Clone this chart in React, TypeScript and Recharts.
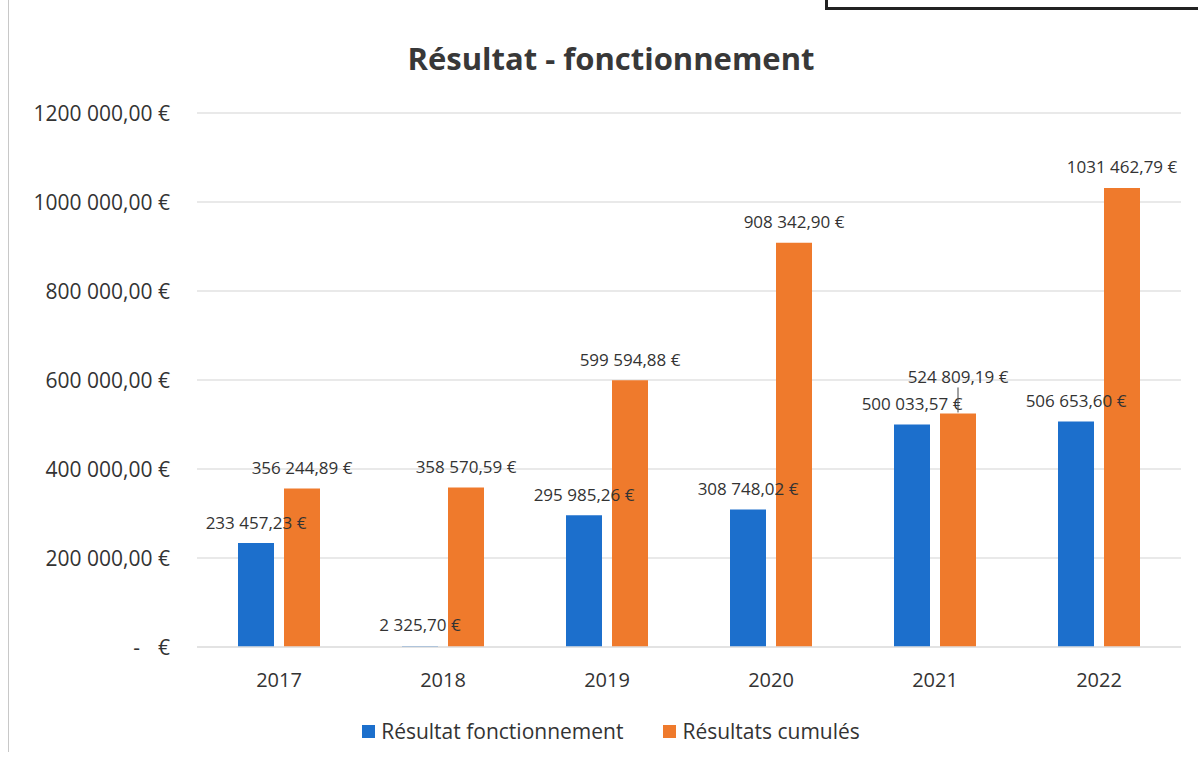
import React from 'react';
import { BarChart, Bar, XAxis, YAxis, CartesianGrid, LabelList, Legend } from 'recharts';

const categories = ['2017', '2018', '2019', '2020', '2021', '2022'];
const resultatFonctionnement = [233457.23, 2325.7, 295985.26, 308748.02, 500033.57, 506653.6];
const resultatsCumules = [356244.89, 358570.59, 599594.88, 908342.9, 524809.19, 1031462.79];
const yTicks = [0, 200000, 400000, 600000, 800000, 1000000, 1200000];
const titleText = 'Résultat - fonctionnement';
const seriesNames = ['Résultat fonctionnement', 'Résultats cumulés'];

const BLUE = '#1c6fcc';
const ORANGE = '#ef7a2c';
const FONT = '"Open Sans", "Liberation Sans", sans-serif';
const TEXT = '#333333';

// label lift (px) applied to specific cumulative labels that were moved in the original
const cumulLabelLift: Record<number, number> = { 4: 16 };

const data = categories.map((c, i) => ({
  year: c,
  fonct: resultatFonctionnement[i],
  cumul: resultatsCumules[i],
}));

function fmtEuro(v: number): string {
  const fixed = Math.abs(v).toFixed(2);
  const [intPart, dec] = fixed.split('.');
  const n = parseInt(intPart, 10);
  const s = n >= 1000 ? Math.floor(n / 1000) + ' ' + String(n % 1000).padStart(3, '0') : String(n);
  return s + ',' + dec + ' €';
}

const YTick = (props: any) => {
  const { x, y, payload } = props;
  const v = payload.value as number;
  if (v === 0) {
    return (
      <g>
        <text x={x - 30} y={y} textAnchor="end" dominantBaseline="central" fontSize={21} fontFamily={FONT} fill={TEXT}>-</text>
        <text x={x} y={y} textAnchor="end" dominantBaseline="central" fontSize={21} fontFamily={FONT} fill={TEXT}>€</text>
      </g>
    );
  }
  return (
    <text x={x} y={y} textAnchor="end" dominantBaseline="central" fontSize={21} fontFamily={FONT} fill={TEXT}>
      {fmtEuro(v)}
    </text>
  );
};

const makeLabel = (lifts: Record<number, number>) => (props: any) => {
  const { x, y, width, value, index } = props;
  const cx = Number(x) + Number(width) / 2;
  const lift = lifts[index] || 0;
  const ty = Number(y) - 21 - lift;
  return (
    <g>
      {lift > 0 && (
        <line x1={cx} x2={cx} y1={ty + 11} y2={Number(y) - 1} stroke="#444" strokeWidth={1} />
      )}
      <text x={cx} y={ty} textAnchor="middle" dominantBaseline="central" fontSize={17} fontFamily={FONT} fill={TEXT}>
        {fmtEuro(Number(value))}
      </text>
    </g>
  );
};

const LegendContent = () => (
  <div style={{ display: 'flex', justifyContent: 'center', alignItems: 'center', fontFamily: FONT, fontSize: 21, color: TEXT, paddingLeft: 24 }}>
    <div style={{ display: 'flex', alignItems: 'center', marginRight: 40 }}>
      <span style={{ width: 13, height: 13, background: BLUE, display: 'inline-block', marginRight: 6 }} />
      <span>{seriesNames[0]}</span>
    </div>
    <div style={{ display: 'flex', alignItems: 'center' }}>
      <span style={{ width: 13, height: 13, background: ORANGE, display: 'inline-block', marginRight: 6 }} />
      <span>{seriesNames[1]}</span>
    </div>
  </div>
);

export default function App() {
  return (
    <div style={{ position: 'absolute', left: 0, top: 0, width: 1198, height: 762, background: '#fff', overflow: 'hidden' }}>
      <div style={{ position: 'absolute', left: 8, top: 0, width: 1, height: 752, background: '#c8c8c8' }} />
      <div style={{ position: 'absolute', left: 825, top: -10, width: 380, height: 17, borderLeft: '3px solid #222', borderBottom: '3px solid #222' }} />
      <div
        style={{
          position: 'absolute', left: 0, width: 1198, top: 37, textAlign: 'center', paddingLeft: 24, boxSizing: 'border-box',
          fontFamily: FONT, fontWeight: 700, fontSize: 31, color: '#383838', lineHeight: '42px',
        }}
      >
        {titleText}
      </div>
      <BarChart
        width={1198}
        height={762}
        data={data}
        margin={{ top: 113, right: 17, left: 0, bottom: 55 }}
        barGap={10}
        barSize={36}
      >
        <CartesianGrid vertical={false} stroke="#e2e2e2" strokeWidth={1.5} />
        <XAxis
          dataKey="year"
          height={60}
          axisLine={{ stroke: '#e0e0e0', strokeWidth: 1.5 }}
          tickLine={false}
          tickSize={0}
          tickMargin={26}
          tick={{ fontSize: 20, fontFamily: FONT, fill: TEXT }}
        />
        <YAxis
          width={197}
          domain={[0, 1200000]}
          ticks={yTicks}
          axisLine={false}
          tickLine={false}
          tickSize={0}
          tickMargin={27}
          tick={<YTick />}
          interval={0}
        />
        <Legend
          layout="horizontal"
          verticalAlign="middle"
          align="center"
          wrapperStyle={{ top: 717, left: 0, width: 1198 }}
          content={<LegendContent />}
        />
        <Bar dataKey="fonct" name={seriesNames[0]} fill={BLUE} isAnimationActive={false}>
          <LabelList dataKey="fonct" content={makeLabel({})} />
        </Bar>
        <Bar dataKey="cumul" name={seriesNames[1]} fill={ORANGE} isAnimationActive={false}>
          <LabelList dataKey="cumul" content={makeLabel(cumulLabelLift)} />
        </Bar>
      </BarChart>
    </div>
  );
}
